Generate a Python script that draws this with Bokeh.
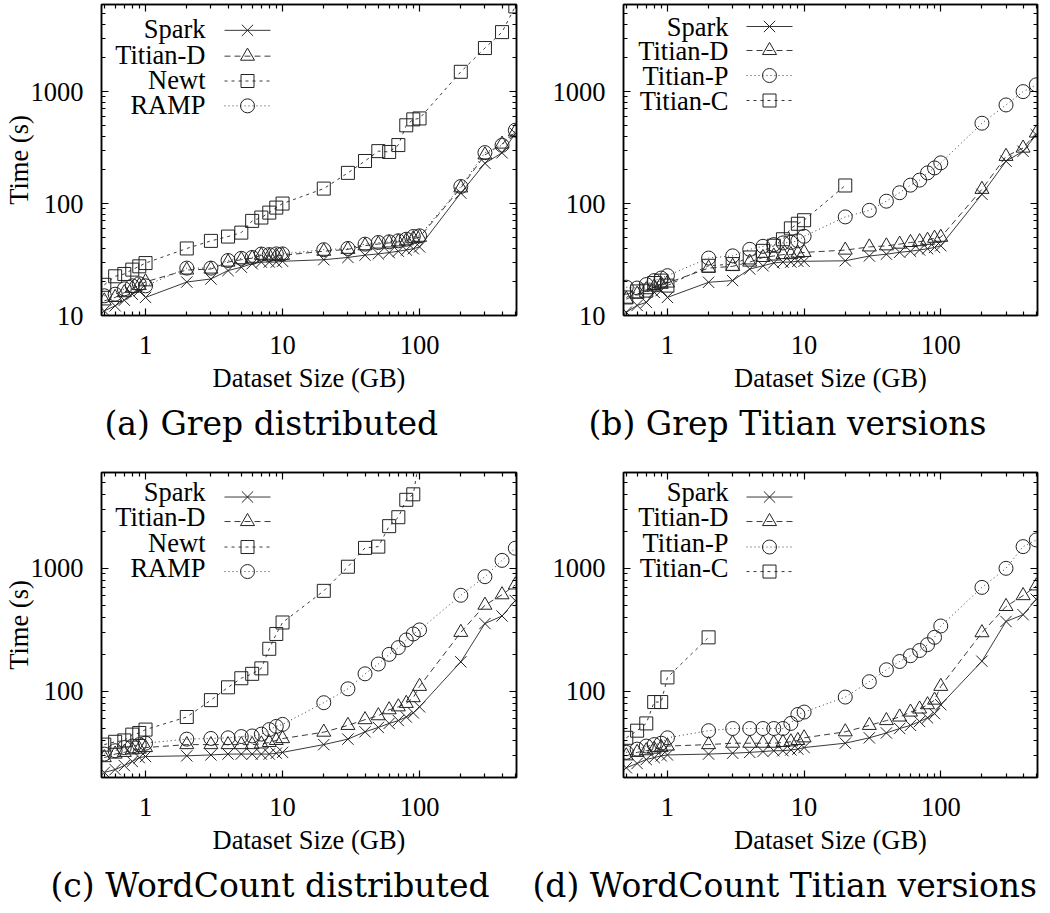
import math
from bokeh.plotting import figure
from bokeh.models import (Range1d, FixedTicker, NumeralTickFormatter, LogAxis, Label, Title,
                          CustomJSTickFormatter)
from bokeh.layouts import column, row
from bokeh.embed import file_html
from bokeh.resources import INLINE

# ---------------- data ----------------
dataset_gb = [0.5, 0.6, 0.7, 0.8, 0.9, 1, 2, 3, 4, 5, 6, 7, 8, 9, 10,
              20, 30, 40, 50, 60, 70, 80, 90, 100, 200, 300, 400, 500]
dataset_gb_to100 = dataset_gb[:24]
dataset_gb_to20 = dataset_gb[:16]
dataset_gb_to2 = dataset_gb[:7]

# (a) Grep distributed
grep_spark = [11, 12.2, 13.7, 15.5, 16.7, 14.5, 19.9, 21.2, 25.2, 27, 29, 30, 30, 30, 30.5,
              31.5, 33, 34.6, 35.5, 36.5, 37.5, 38.5, 39.5, 41, 124, 229, 284, 423]
grep_titian_d = [13.5, 14.5, 16, 17.5, 18.5, 20, 25.5, 26, 30, 31.5, 32.5, 34.5, 34, 34, 34.5,
                 37.5, 39, 42, 43.5, 44.5, 45.5, 46.5, 48.5, 50, 138, 272, 340, 437]
grep_newt = [18.8, 22.4, 23.5, 25.7, 27.5, 29.4, 39.7, 46.4, 50.7, 55, 70, 75, 83, 92, 100,
             136, 188, 240, 294, 289, 333, 500, 565, 576, 1503, 2450, 3400, 5770]
grep_ramp = [15, 15.5, 17.3, 18.4, 19.2, 18.4, 26.5, 26.5, 31, 32.4, 33, 35.4, 35, 35.5, 35.5,
             38.7, 39.7, 43.4, 44.9, 45.5, 46.5, 48, 50.8, 51.5, 142, 285, 332, 452]

# (b) Grep Titian versions
grepv_spark = [10.7, 12.3, 13.1, 16.1, 16.7, 14.5, 19.8, 20.5, 26, 27.8, 29.5, 30, 30, 30.5, 30.5,
               30.8, 34, 35.3, 36.7, 37.5, 38.5, 39.5, 40.5, 42, 121, 239, 293, 412]
grepv_titian_d = [14, 15.5, 17, 18, 19, 19.5, 26.5, 27.5, 30, 33, 34, 35, 35, 36, 36.6,
                  38.4, 41, 41.9, 43.4, 44.9, 45.7, 47, 49, 50, 134, 264, 313, 427]
grepv_titian_p = [17.9, 17.6, 18.9, 20.5, 21.6, 22.7, 32.6, 34.1, 39, 41.5, 43, 44.5, 45, 46.5, 51,
                  76, 87, 105, 125, 146, 162, 188, 208, 231, 522, 760, 1000, 1150]
grepv_titian_c = [14.5, 16.4, 16.7, 19.5, 20.5, 18.5, 27.8, 28.8, 33, 37.8, 42, 48, 60, 66, 71, 145]

# (c) WordCount distributed
wc_spark = [22, 23.2, 25, 27, 29, 29.6, 30, 30.5, 31, 31, 31, 31, 31, 31.5, 32,
            37, 41, 47, 51, 55, 58, 62, 67, 75, 174, 356, 410, 547]
wc_titian_d = [29, 31, 32, 33.5, 34, 35, 37, 37, 37, 37, 37, 37.5, 38.5, 40, 41.4,
               46.7, 53, 59, 63.5, 71, 75, 80, 89, 110, 302, 502, 610, 733]
wc_newt = [37, 39, 40, 44.6, 46, 49, 62, 85, 108, 128, 139, 154, 222, 293, 363,
           656, 1030, 1465, 1500, 2200, 2600, 3600, 3990, 8000]
wc_ramp = [31, 33, 35, 36, 37, 38, 41, 41.5, 42, 43, 43.5, 45, 49, 52, 54,
           81, 105, 139, 167, 200, 227, 262, 293, 316, 604, 855, 1160, 1456]

# (d) WordCount Titian versions
wcv_spark = [24, 26, 28, 29, 30, 30.5, 31, 31.5, 32, 32.5, 33, 33, 33.5, 34, 35,
             38, 42, 46, 50, 53, 57, 61, 66, 78, 176, 370, 420, 560]
wcv_titian_d = [30, 32, 33, 34, 35, 36, 37, 38, 38, 38, 38, 38.5, 39, 40, 42,
                47, 53, 58, 62, 68, 72, 78, 85, 110, 300, 490, 600, 720]
wcv_titian_p = [32, 34, 36, 37, 38, 42, 48, 50, 50, 50, 50, 50, 55, 65, 68,
                90, 120, 150, 175, 195, 215, 240, 275, 340, 700, 1000, 1500, 1700]
wcv_titian_c = [42, 48, 55, 82, 82, 130, 275]

x_major = [1, 10, 100]
y_major_a = [10, 100, 1000]
y_major_c = [100, 1000]
captions = ["(a) Grep distributed", "(b) Grep Titian versions",
            "(c) WordCount distributed", "(d) WordCount Titian versions"]

# ---------------- style ----------------
X_LO, X_HI = 0.477, 510
LINE_COLOR = "#3a3a3a"
MARK_COLOR = "#222222"
TICK_FONT = "Liberation Serif"
FS = "26.5px"
STYLE = {
    "Spark":    dict(marker="x", dash="solid", size=16),
    "Titian-D": dict(marker="triangle", dash="6 4", size=14),
    "Newt":     dict(marker="square", dash="3 4", size=13),
    "Titian-C": dict(marker="square", dash="3 4", size=13),
    "RAMP":     dict(marker="circle", dash="1 3", size=14),
    "Titian-P": dict(marker="circle", dash="1 3", size=14),
}
X_MINOR = [m * d for d in (0.1, 1, 10, 100) for m in range(2, 10)]
Y_MINOR = [m * d for d in (1, 10, 100, 1000) for m in range(2, 10)]


def log_at(lo, hi, frac):
    return 10 ** (math.log10(lo) + frac * (math.log10(hi) - math.log10(lo)))


def make_panel(cfg):
    w, h = cfg["w"], cfg["h"]
    bl, br, bt, bb = cfg["borders"]
    ylo, yhi = cfg["yr"]
    p = figure(width=w, height=h, x_axis_type="log", y_axis_type="log",
               x_range=Range1d(X_LO, X_HI), y_range=Range1d(ylo, yhi),
               output_backend="svg", toolbar_location=None,
               min_border_left=bl, min_border_right=br,
               min_border_top=bt, min_border_bottom=bb)
    p.grid.visible = False
    p.outline_line_color = "black"
    p.outline_line_width = 1.5
    p.background_fill_color = "white"
    p.border_fill_color = "white"

    xt = FixedTicker(ticks=x_major, minor_ticks=X_MINOR)
    yt = FixedTicker(ticks=cfg["ymajor"], minor_ticks=Y_MINOR)
    p.xaxis.ticker = xt
    p.yaxis.ticker = yt
    p.xaxis.formatter = NumeralTickFormatter(format="0")
    p.yaxis.formatter = NumeralTickFormatter(format="0")
    for ax in (p.xaxis, p.yaxis):
        ax.major_tick_in = 7
        ax.major_tick_out = 0
        ax.minor_tick_in = 4
        ax.minor_tick_out = 0
        ax.axis_line_width = 1.5
        ax.major_tick_line_width = 1.2
        ax.minor_tick_line_width = 1.2
        ax.major_label_text_font = TICK_FONT
        ax.major_label_text_font_size = FS
        ax.major_label_text_color = "black"
        ax.axis_label_text_font = TICK_FONT
        ax.axis_label_text_font_size = FS
        ax.axis_label_text_font_style = "normal"
        ax.axis_label_text_color = "black"
    p.xaxis.major_label_standoff = 20
    p.xaxis.axis_label_standoff = 6
    p.xaxis.axis_label = "Dataset Size (GB)"
    p.yaxis.major_label_standoff = 18
    p.yaxis.axis_label_standoff = -6
    if cfg["ylabel"]:
        p.yaxis.axis_label = cfg["ylabel"]

    for side, tk in (("above", xt), ("right", yt)):
        ax = LogAxis(ticker=tk, formatter=CustomJSTickFormatter(code="return ''"),
                     major_label_text_font_size="1px", major_label_text_alpha=0,
                     major_label_standoff=0,
                     major_tick_in=7, major_tick_out=0, minor_tick_in=4, minor_tick_out=0,
                     axis_line_width=1.5, major_tick_line_width=1.2, minor_tick_line_width=1.2)
        p.add_layout(ax, side)

    fw = w - bl - br
    fh = h - bt - bb
    lx0 = log_at(X_LO, X_HI, 123 / fw)
    lx1 = log_at(X_LO, X_HI, 169 / fw)
    lxm = log_at(X_LO, X_HI, 146 / fw)

    for i, (name, xs, ys) in enumerate(cfg["series"]):
        st = STYLE[name]
        p.line(xs, ys, line_color=LINE_COLOR, line_width=1, line_dash=st["dash"])
        p.scatter(xs, ys, marker=st["marker"], size=st["size"], line_color=MARK_COLOR,
                  fill_color=None, line_width=1)
        dy = cfg["leg_rows"][i]
        ly = log_at(ylo, yhi, dy / fh)
        p.line([lx0, lx1], [ly, ly], line_color=LINE_COLOR, line_width=1, line_dash=st["dash"])
        p.scatter([lxm], [ly], marker=st["marker"], size=st["size"], line_color=MARK_COLOR,
                  fill_color=None, line_width=1)
        p.add_layout(Label(x=cfg["leg_tx"], y=dy, x_units="screen", y_units="screen",
                           text=name, text_align="right", text_baseline="middle",
                           text_font=TICK_FONT, text_font_size=FS, text_color="black"))

    p.add_layout(Title(text=cfg["caption"], align="left", offset=cfg["cap_off"],
                       standoff=12, text_font="DejaVu Serif", text_font_size="33px",
                       text_font_style="normal", text_color="black"), "below")
    return p


pa = make_panel(dict(
    w=524, h=465, borders=(101, 8, 4, 148), yr=(10, 6000), ymajor=y_major_a, ylabel="Time (s)",
    series=[("Spark", dataset_gb, grep_spark), ("Titian-D", dataset_gb, grep_titian_d),
            ("Newt", dataset_gb, grep_newt), ("RAMP", dataset_gb, grep_ramp)],
    leg_rows=[287, 261, 236, 211], leg_tx=104, cap_off=3, caption=captions[0]))

pb = make_panel(dict(
    w=521, h=465, borders=(99, 8, 4, 150), yr=(10, 6000), ymajor=y_major_a, ylabel=None,
    series=[("Spark", dataset_gb, grepv_spark), ("Titian-D", dataset_gb, grepv_titian_d),
            ("Titian-P", dataset_gb, grepv_titian_p), ("Titian-C", dataset_gb_to20, grepv_titian_c)],
    leg_rows=[289, 265, 240, 215], leg_tx=105, cap_off=-35, caption=captions[1]))

pc = make_panel(dict(
    w=524, h=445, borders=(101, 8, 7, 127), yr=(20, 6000), ymajor=y_major_c, ylabel="Time (s)",
    series=[("Spark", dataset_gb, wc_spark), ("Titian-D", dataset_gb, wc_titian_d),
            ("Newt", dataset_gb_to100, wc_newt), ("RAMP", dataset_gb, wc_ramp)],
    leg_rows=[286, 261, 235, 210], leg_tx=104, cap_off=-51, caption=captions[2]))

pd_ = make_panel(dict(
    w=521, h=445, borders=(99, 8, 7, 127), yr=(20, 6000), ymajor=y_major_c, ylabel=None,
    series=[("Spark", dataset_gb, wcv_spark), ("Titian-D", dataset_gb, wcv_titian_d),
            ("Titian-P", dataset_gb, wcv_titian_p), ("Titian-C", dataset_gb_to2, wcv_titian_c)],
    leg_rows=[286, 261, 235, 210], leg_tx=105, cap_off=-91, caption=captions[3]))

layout = column(row(pa, pb), row(pc, pd_))
open("out.html", "w").write(file_html(layout, INLINE))
